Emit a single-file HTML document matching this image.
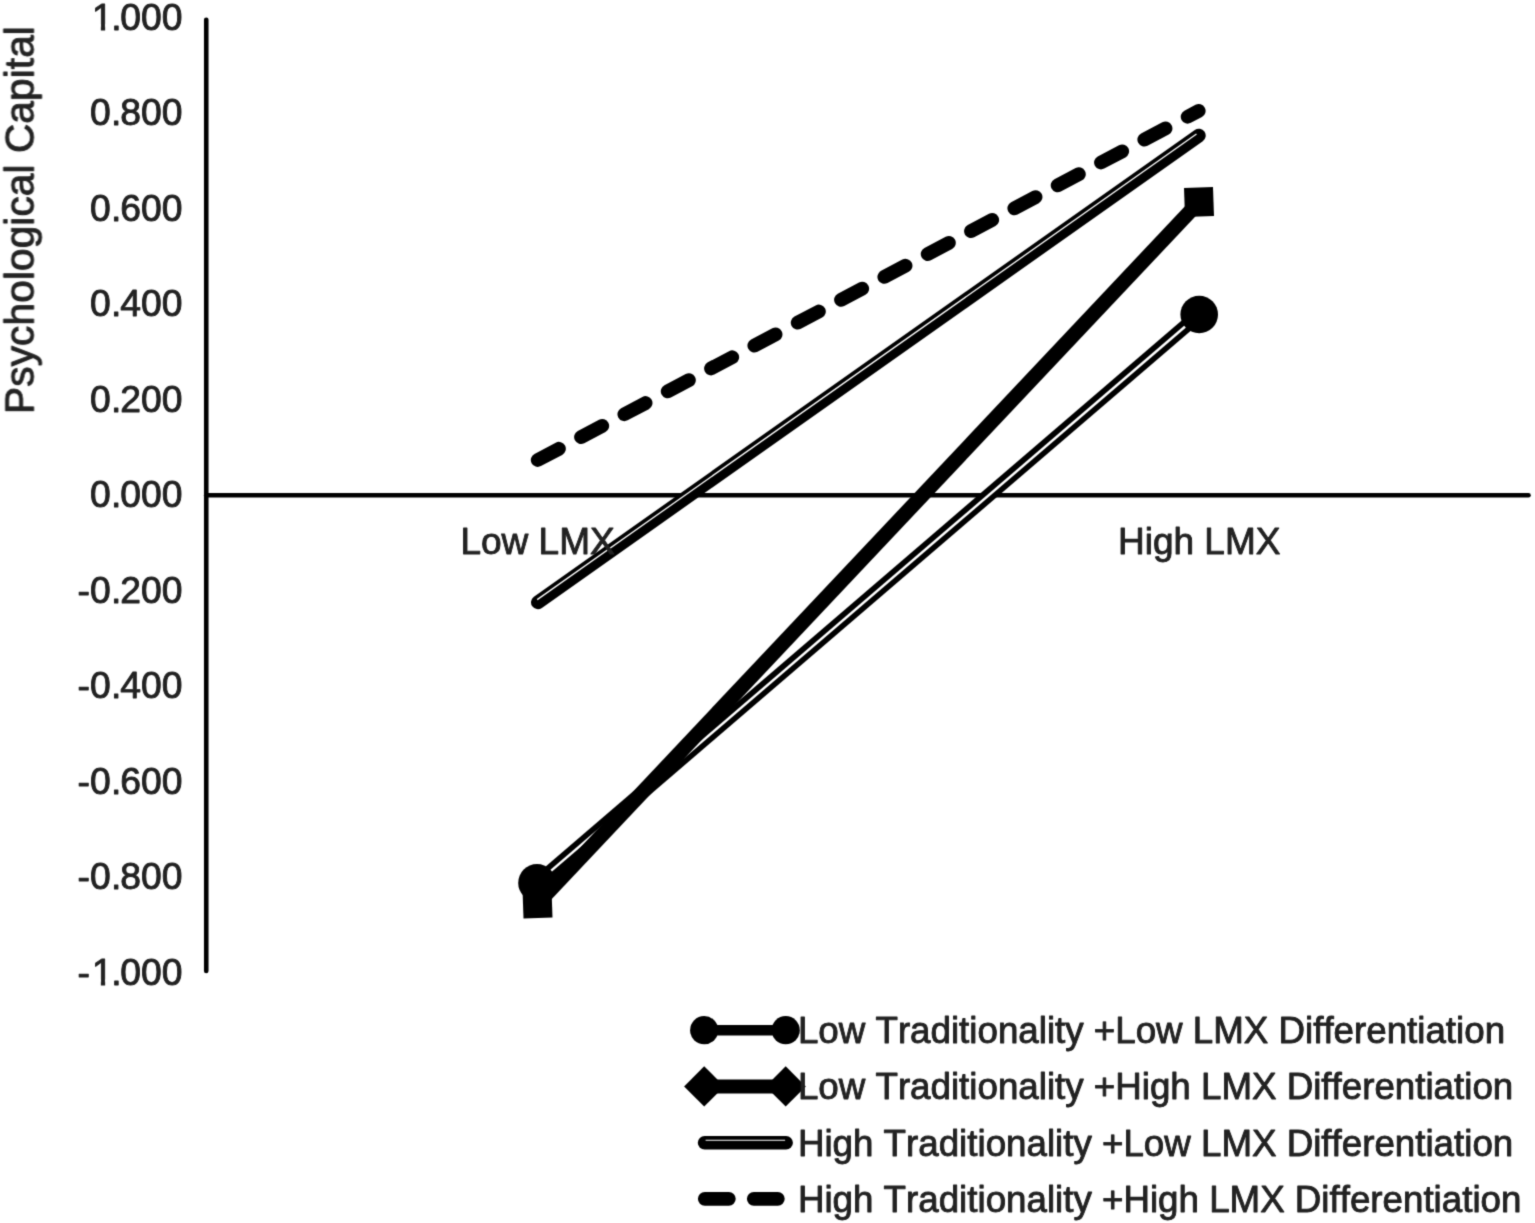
<!DOCTYPE html>
<html lang="en">
<head>
<meta charset="utf-8">
<title>Psychological Capital: LMX x Traditionality x LMX Differentiation</title>
<style>
  html, body { margin: 0; padding: 0; background: #ffffff; }
  body { width: 1535px; height: 1223px; overflow: hidden; }
  svg { display: block; }
  text { font-family: "Liberation Sans", Arial, Helvetica, sans-serif; fill: #222222; stroke: #222222; stroke-width: 0.9px; stroke-linejoin: round; font-kerning: none; }
  .tick { font-size: 37.3px; text-anchor: end; }
  .cat { font-size: 37px; text-anchor: middle; }
  .leg { font-size: 36.72px; text-anchor: start; }
  .ytitle { font-size: 40.8px; text-anchor: middle; }
</style>
</head>
<body>
<svg width="1535" height="1223" viewBox="0 0 1535 1223">
  <defs><filter id="soft" x="0" y="0" width="1535" height="1223" filterUnits="userSpaceOnUse" color-interpolation-filters="sRGB"><feConvolveMatrix order="3" kernelMatrix="0.02288 0.10550 0.02288 0.10550 0.48651 0.10550 0.02288 0.10550 0.02288" divisor="1" edgeMode="duplicate" preserveAlpha="false"/></filter></defs>
  <rect x="0" y="0" width="1535" height="1223" fill="#ffffff"/>
  <g filter="url(#soft)">
  <g class="tick">
    <text x="182.4" y="29.75" dx="0 -1.5 -1.5">1.000</text>
    <text x="182.4" y="125.27" dx="0 0.2 -1.2">0.800</text>
    <text x="182.4" y="220.78" dx="0 0.2 -1.2">0.600</text>
    <text x="182.4" y="316.3" dx="0 0.2 -1.2">0.400</text>
    <text x="182.4" y="411.81" dx="0 0.2 -1.2">0.200</text>
    <text x="182.4" y="507.32" dx="0 0.2 -1.2">0.000</text>
    <text x="182.4" y="602.84" dx="0 0 0.2 -1.2">-0.200</text>
    <text x="182.4" y="698.36" dx="0 0 0.2 -1.2">-0.400</text>
    <text x="182.4" y="793.87" dx="0 0 0.2 -1.2">-0.600</text>
    <text x="182.4" y="889.38" dx="0 0 0.2 -1.2">-0.800</text>
    <text x="182.4" y="984.9" dx="0 2 -1.5 -1.5">-1.000</text>
  </g>
  <rect x="90.85" y="24.15" width="10" height="8" fill="#fff"/>
  <rect x="105.15" y="24.15" width="8.6" height="8" fill="#fff"/>
  <rect x="90.85" y="979.3" width="10" height="8" fill="#fff"/>
  <rect x="105.15" y="979.3" width="8.6" height="8" fill="#fff"/>
  <text class="ytitle" transform="translate(33.6,220.1) rotate(-90)">Psychological Capital</text>
  <line x1="206.25" y1="19.8" x2="206.25" y2="971" stroke="#000" stroke-width="4.6" stroke-linecap="round"/>
  <line x1="206.25" y1="495.25" x2="1528.5" y2="495.25" stroke="#000" stroke-width="4.6" stroke-linecap="round"/>
  <line x1="537.7" y1="460" x2="1198.7" y2="110.9" stroke="#000" stroke-width="13.8" stroke-linecap="round" stroke-dasharray="24 25"/>
  <line x1="537.9" y1="602.3" x2="1198.8" y2="135.6" stroke="#000" stroke-width="13.8" stroke-linecap="round"/>
  <line x1="537.22" y1="599.6" x2="1196.48" y2="134.05" stroke="#fff" stroke-width="1.3"/>
  <line x1="537" y1="882.9" x2="1199.2" y2="314.5" stroke="#000" stroke-width="13.6"/>
  <line x1="537" y1="882.9" x2="1199.2" y2="314.5" stroke="#fff" stroke-width="2.5"/>
  <circle cx="537" cy="882.9" r="18.8" fill="#000"/>
  <circle cx="1199.2" cy="314.5" r="18.8" fill="#000"/>
  <line x1="537.5" y1="903.5" x2="1199" y2="202" stroke="#000" stroke-width="14.6"/>
  <rect x="523" y="889" width="29" height="29" fill="#000" transform="rotate(-2 537.5 903.5)"/>
  <rect x="1184.5" y="187.5" width="29" height="29" fill="#000" transform="rotate(-2 1199 202)"/>
  <text class="cat" x="537.6" y="554.1">Low LMX</text>
  <text class="cat" x="1199.2" y="554.4">High LMX</text>
  <line x1="704.2" y1="1030.2" x2="785.7" y2="1030.2" stroke="#000" stroke-width="10.4"/>
  <circle cx="704.2" cy="1030.2" r="14.1" fill="#000"/>
  <circle cx="785.7" cy="1030.2" r="14.1" fill="#000"/>
  <text class="leg" x="797.9" y="1043.3">Low Traditionality +Low LMX Differentiation</text>
  <line x1="704.2" y1="1086.4" x2="785.7" y2="1086.4" stroke="#000" stroke-width="14"/>
  <path d="M684.1 1086.4 L704.2 1066.3 L724.3 1086.4 L704.2 1106.5 Z" fill="#000"/>
  <path d="M765.6 1086.4 L785.7 1066.3 L805.8 1086.4 L785.7 1106.5 Z" fill="#000"/>
  <text class="leg" x="797.9" y="1099.3">Low Traditionality +High LMX Differentiation</text>
  <line x1="704.6" y1="1142.8" x2="786.1" y2="1142.8" stroke="#000" stroke-width="13.6" stroke-linecap="round"/>
  <line x1="705.6" y1="1140.3" x2="785.1" y2="1140.3" stroke="#fff" stroke-width="1.1"/>
  <text class="leg" x="797.9" y="1156.3">High Traditionality +Low LMX Differentiation</text>
  <line x1="704.8" y1="1198.8" x2="786" y2="1198.8" stroke="#000" stroke-width="13.8" stroke-linecap="round" stroke-dasharray="24 25"/>
  <text class="leg" x="797.9" y="1212.3">High Traditionality +High LMX Differentiation</text>
  </g>
</svg>
</body>
</html>
